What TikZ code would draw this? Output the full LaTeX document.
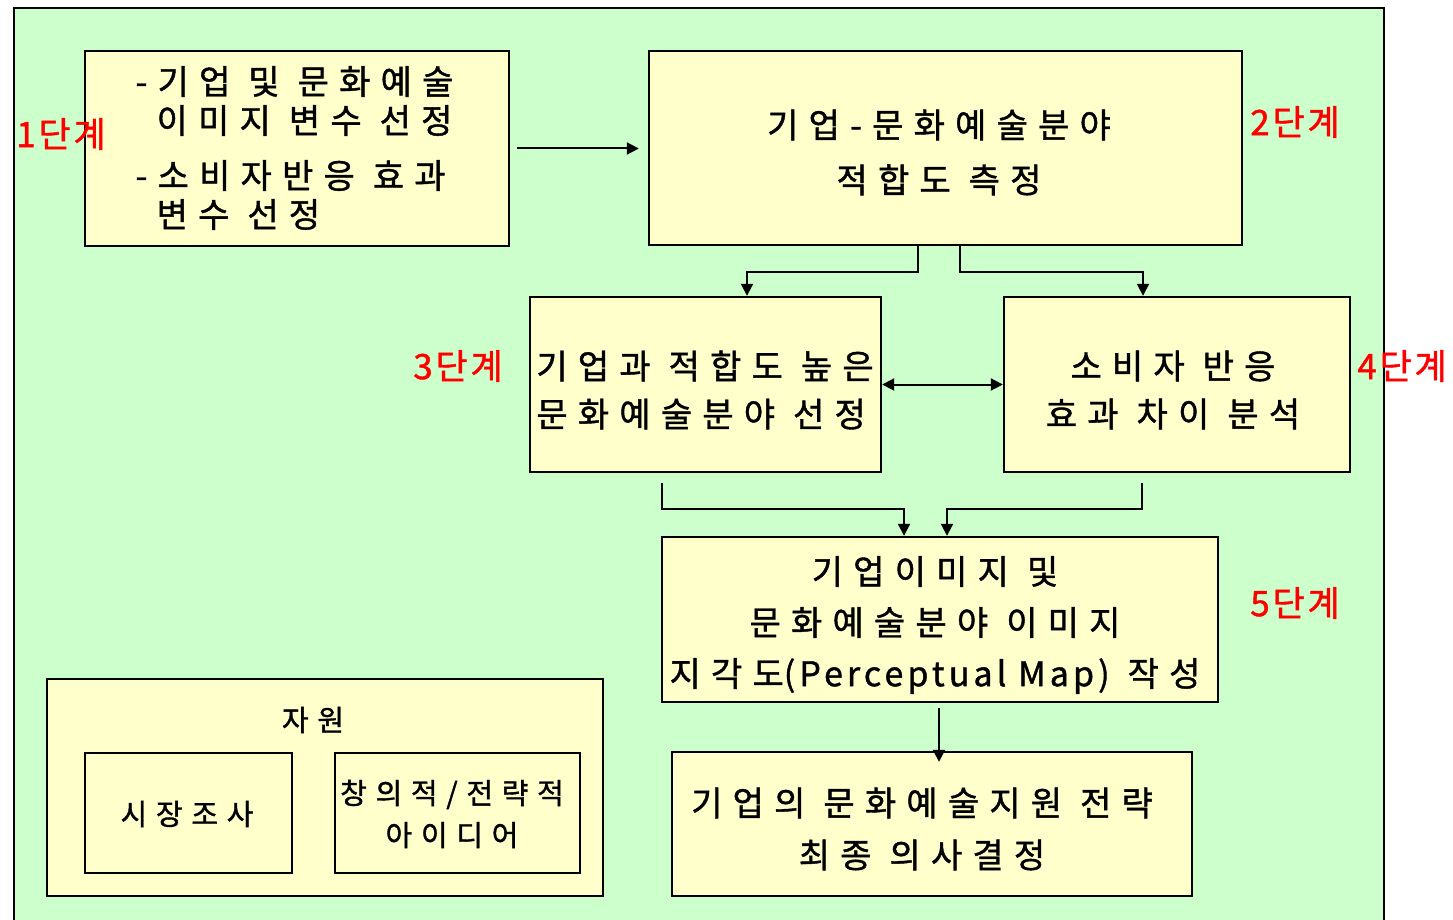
\documentclass[tikz,border=0pt]{standalone}
\usepackage{fontspec}
\usetikzlibrary{arrows.meta}
\newfontfamily\kr{Noto Sans CJK KR}[FakeBold=1.2]
\definecolor{bggreen}{HTML}{CCFFCC}
\definecolor{boxyellow}{HTML}{FFFFCC}
\definecolor{stagered}{HTML}{FF0000}
\newcommand{\ft}[1]{\kr\fontsize{34}{#1}\selectfont\addfontfeature{LetterSpace=30}}
\newcommand{\fs}[1]{\kr\fontsize{29}{#1}\selectfont\addfontfeature{LetterSpace=30}}
\newcommand{\fst}{\kr\fontsize{35}{40}\selectfont\addfontfeature{LetterSpace=8}}
\newcommand{\gap}{\hspace{18pt}}
\newcommand{\ind}{\hspace*{21pt}}
\newcommand{\lat}[1]{{\addfontfeature{LetterSpace=12}#1}}
\tikzset{
  box/.style={draw=black, line width=2.4pt, fill=boxyellow, inner sep=0pt},
  txt/.style={inner sep=0pt},
  stage/.style={inner sep=0pt, text=stagered, font=\fst},
  conn/.style={draw=black, line width=2pt, -{Triangle[length=12pt,width=12pt]}},
  both/.style={draw=black, line width=2pt, {Triangle[length=12pt,width=12pt]}-{Triangle[length=12pt,width=12pt]}}
}
\begin{document}
\begin{tikzpicture}[x=1pt,y=-1pt]
\useasboundingbox (0,0) rectangle (1453,920);
\fill[white] (0,0) rectangle (1453,920);
\draw[fill=bggreen, line width=2pt] (14,8) rectangle (1384,940);

% boxes
\node[box, minimum width=424pt, minimum height=195pt] (b1) at (297,148.5) {};
\node[box, minimum width=593pt, minimum height=194pt] (b2) at (945.5,148) {};
\node[box, minimum width=351pt, minimum height=175pt] (b3) at (705.5,384.5) {};
\node[box, minimum width=346pt, minimum height=175pt] (b4) at (1177,384.5) {};
\node[box, minimum width=556pt, minimum height=165pt] (b5) at (940,619.5) {};
\node[box, minimum width=520pt, minimum height=144pt] (b6) at (932,824) {};
\node[box, minimum width=556pt, minimum height=217pt] (res) at (325,787.5) {};
\node[box, minimum width=207pt, minimum height=120pt] (r1) at (188.5,813) {};
\node[box, minimum width=245pt, minimum height=120pt] (r2) at (457.5,813) {};

% texts
\node[txt, font=\ft{39}, align=left] (t1) at (294.5,148) {-기업\gap 및\gap 문화예술\\\ind 이미지\gap 변수\gap 선정\\[16pt]-소비자반응\gap 효과\\\ind 변수\gap 선정};
\node[txt, font=\ft{55}, align=center] (t2) at (939,152.5) {기업-문화예술분야\\적합도\gap 측정};
\node[txt, font=\ft{48}, align=left] (t3) at (705,390) {기업과\gap 적합도\gap 높은\\문화예술분야\gap 선정};
\node[txt, font=\ft{48}, align=center] (t4) at (1173,390) {소비자\gap 반응\\효과\gap 차이\gap 분석};
\node[txt, font=\ft{51}, align=center] (t5) at (935,625) {기업이미지\gap 및\\문화예술분야\gap 이미지\\지각도\lat{(Perceptual Map)}\gap 작성};
\node[txt, font=\ft{52}, align=center] (t6) at (922,829) {기업의\gap 문화예술지원\gap 전략\\최종\gap 의사결정};
\node[txt, font=\fs{44}] (tres) at (313,720) {자원};
\node[txt, font=\fs{44}] (tr1) at (187,814) {시장조사};
\node[txt, font=\fs{42}, align=center] (tr2) at (452,814) {창의적/전략적\\아이디어};

% connectors
\draw[conn, shorten <=7pt, shorten >=9pt] (b1.east) -- (b1.east -| b2.west);
\draw[conn] ([xshift=-27.5pt]b2.south) -- ++(0,26) -| ([xshift=41.5pt]b3.north);
\draw[conn] ([xshift=14.5pt]b2.south) -- ++(0,26) -| ([xshift=-34pt]b4.north);
\draw[both] (b3.east) -- (b4.west);
\draw[conn] ([xshift=-43.5pt,yshift=-10pt]b3.south) -- ++(0,26) -| ([xshift=-36pt]b5.north);
\draw[conn] ([xshift=-35pt,yshift=-10pt]b4.south) -- ++(0,26) -| ([xshift=7pt]b5.north);
\draw[conn] ([xshift=-1pt,yshift=-5pt]b5.south) -- ([xshift=7pt,yshift=-11pt]b6.north);

% stage labels
\node[stage] (s1) at (61,134) {1단계};
\node[stage] (s2) at (1295,122) {2단계};
\node[stage] (s3) at (458,366) {3단계};
\node[stage] (s4) at (1402,366) {4단계};
\node[stage] (s5) at (1295,603) {5단계};
\end{tikzpicture}
\end{document}
